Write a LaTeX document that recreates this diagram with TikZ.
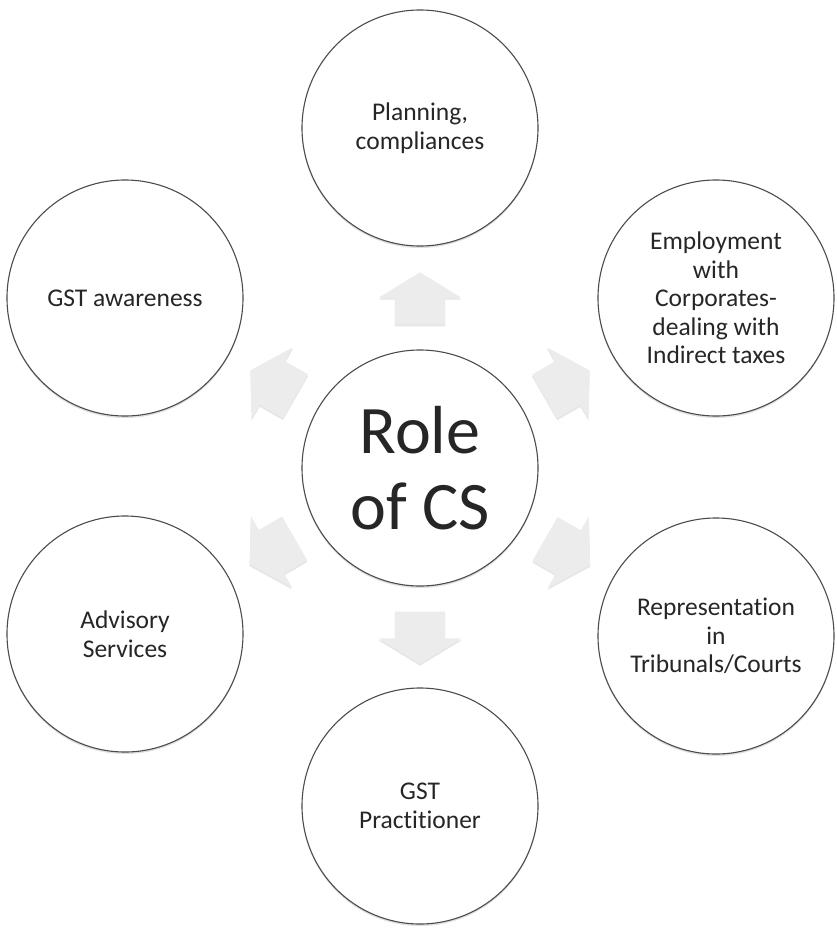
\documentclass[tikz,border=0pt]{standalone}
\usepackage{fontspec}
\setmainfont{Carlito}[Ligatures=NoCommon]
\usetikzlibrary{shapes.arrows,shadows,calc}

\tikzset{
  topic/.style={circle, draw=black!70, line width=1.1pt, fill=white, minimum size=236pt, inner sep=0pt, align=center,
    font=\fontsize{25.5}{28.5}\selectfont, text=black!85,
    drop shadow={opacity=0.25, shadow xshift=0pt, shadow yshift=-2pt}},
  hub/.style={topic, font=\fontsize{68}{76}\selectfont},
  blockarrow/.style={single arrow, fill=gray!15, draw=none, minimum height=52pt, inner xsep=0pt, inner ysep=25pt,
    single arrow head extend=16pt, single arrow tip angle=117,
    drop shadow={opacity=0.2, shadow xshift=0pt, shadow yshift=-2pt}}
}

\begin{document}
\begin{tikzpicture}[x=1pt, y=-1pt]
	\useasboundingbox (0,0) rectangle (837,931);
	\node[hub] (role) at (420,468) {Role\\of CS};
	\node[topic] (plan) at (420,128) {Planning,\\compliances};
	\node[topic] (employ) at (716,298) {Employment\\with\\Corporates-\\dealing with\\Indirect taxes};
	\node[topic] (repr) at (716,636) {Representation\\in\\Tribunals/Courts};
	\node[topic] (pract) at (420,806) {GST\\Practitioner};
	\node[topic] (advis) at (125,634) {Advisory\\Services};
	\node[topic] (aware) at (125,298) {GST awareness};
	% block arrows pointing out of the hub
	\foreach \t/\a in {plan/90, employ/30, repr/-30, pract/-90, advis/-150, aware/150}
		\node[blockarrow, rotate=\a] (arr-\t) at ($(role)!162pt!(\t)$) {};
\end{tikzpicture}
\end{document}
